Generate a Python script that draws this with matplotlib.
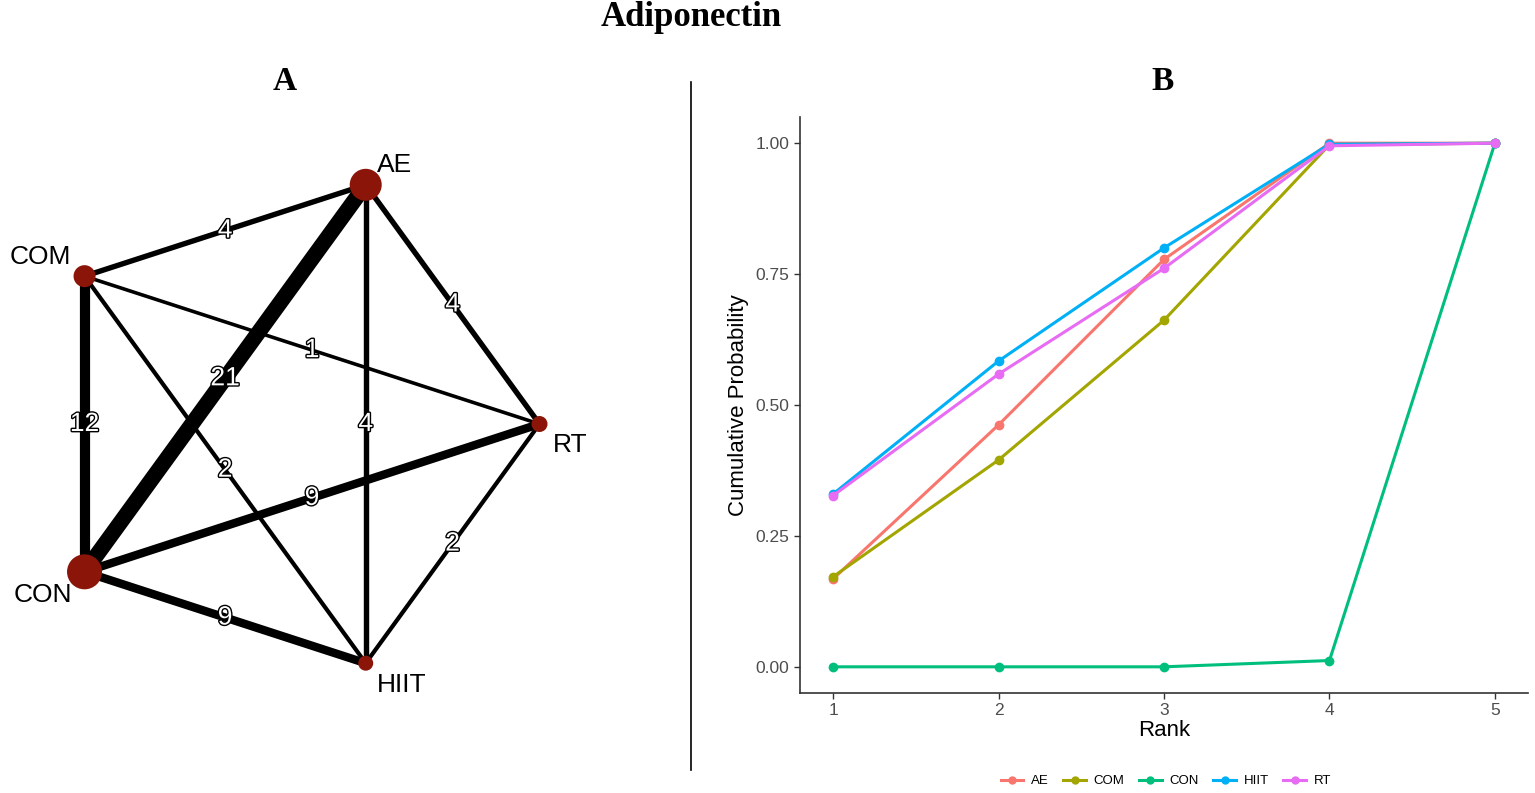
import numpy as np
import matplotlib
matplotlib.use('Agg')
import matplotlib.pyplot as plt
import matplotlib.patheffects as pe
from matplotlib.lines import Line2D

plt.rcParams['font.family'] = ['Liberation Sans', 'DejaVu Sans']

# network data: treatments placed around a circle (RT at 0 deg, counter-clockwise)
nodes = ['RT', 'AE', 'COM', 'CON', 'HIIT']
node_size = [8, 16, 11, 17.5, 7.5]   # marker radius, px
edges = [('AE', 'CON'), ('COM', 'CON'), ('CON', 'RT'), ('CON', 'HIIT'),
         ('AE', 'COM'), ('AE', 'RT'), ('AE', 'HIIT'),
         ('COM', 'RT'), ('COM', 'HIIT'), ('RT', 'HIIT')]
n_studies = [21, 12, 9, 9, 4, 4, 4, 1, 2, 2]

# rank data (cumulative probability)
ranks = [1, 2, 3, 4, 5]
treatments = ['AE', 'COM', 'CON', 'HIIT', 'RT']
ae = [0.168, 0.462, 0.778, 1.0, 1.0]
com = [0.172, 0.395, 0.662, 0.997, 1.0]
con = [0.0, 0.0, 0.0, 0.012, 1.0]
hiit = [0.330, 0.584, 0.800, 0.998, 1.0]
rt = [0.327, 0.559, 0.761, 0.995, 1.0]
colors = ['#F8766D', '#A3A500', '#00BF7D', '#00B0F6', '#E76BF3']

W, H = 1535, 793
fig = plt.figure(figsize=(W / 100, H / 100), dpi=100)

fig.text(691 / W, 1 - 18 / H, 'Adiponectin', ha='center', va='center',
         fontsize=25, fontweight='bold', family='Liberation Serif')
fig.text(285 / W, 1 - 82 / H, 'A', ha='center', va='center',
         fontsize=24, fontweight='bold', family='Liberation Serif')
fig.text(1163 / W, 1 - 82 / H, 'B', ha='center', va='center',
         fontsize=24, fontweight='bold', family='Liberation Serif')
fig.add_artist(Line2D([691 / W, 691 / W], [1 - 770 / H, 1 - 82 / H],
                      color='black', lw=1.2))

# ---- panel A: network ----
R = 251.5
cx, cy = 288, 793 - 424
axA = fig.add_axes([0, 0, 576 / W, 2 * cy / H])
axA.set_xlim(-cx / R, cx / R)
axA.set_ylim(-cy / R, cy / R)
axA.axis('off')
ang = np.deg2rad(np.arange(len(nodes)) * 72)
pos = {n: (np.cos(a), np.sin(a)) for n, a in zip(nodes, ang)}

for (a, b), n in zip(edges, n_studies):
    (x1, y1), (x2, y2) = pos[a], pos[b]
    axA.plot([x1, x2], [y1, y2], color='black',
             lw=(3 + 0.6 * n) * 0.72, solid_capstyle='butt', zorder=1)
    axA.text((x1 + x2) / 2, (y1 + y2) / 2, str(n), ha='center', va='center',
             fontsize=19, color='white', zorder=4,
             path_effects=[pe.withStroke(linewidth=2, foreground='black')])

for n, r in zip(nodes, node_size):
    axA.scatter(*pos[n], s=(2 * r * 0.72) ** 2, color='#8B1508',
                edgecolors='none', zorder=3)

label_off = {'RT': (22, -15), 'AE': (21, 14), 'COM': (-32, 14),
             'CON': (-30, -17), 'HIIT': (26, -16)}
for n in nodes:
    axA.annotate(n, pos[n], xytext=label_off[n], textcoords='offset points',
                 ha='center', va='center', fontsize=19, zorder=5)

# ---- panel B: cumulative ranking ----
axB = fig.add_axes([800 / W, 1 - 693 / H, 728 / W, 576 / H])
for name, vals, c in zip(treatments, [ae, com, con, hiit, rt], colors):
    axB.plot(ranks, vals, color=c, lw=2.2, marker='o', markersize=6,
             label=name)
axB.set_xlim(0.8, 5.2)
axB.set_ylim(-0.05, 1.05)
axB.set_xticks(ranks)
axB.set_yticks([0, 0.25, 0.5, 0.75, 1.0])
axB.set_yticklabels(['0.00', '0.25', '0.50', '0.75', '1.00'])
axB.tick_params(labelsize=12.5, colors='#333333', labelcolor='#4D4D4D',
                length=4, width=1)
for s in ['top', 'right']:
    axB.spines[s].set_visible(False)
for s in ['left', 'bottom']:
    axB.spines[s].set_color('#333333')
    axB.spines[s].set_linewidth(1.2)
axB.set_xlabel('Rank', fontsize=16, labelpad=1)
axB.set_ylabel('Cumulative Probability', fontsize=16, labelpad=5)

handles = [Line2D([], [], color=c, lw=2.2, marker='o', markersize=5)
           for c in colors]
fig.legend(handles, treatments, loc='center', ncol=5,
           bbox_to_anchor=(1166 / W, 12 / H), frameon=False, fontsize=9.5,
           handlelength=1.7, columnspacing=1.1, handletextpad=0.6)

fig.savefig('out.png', dpi=100)
plt.close(fig)
